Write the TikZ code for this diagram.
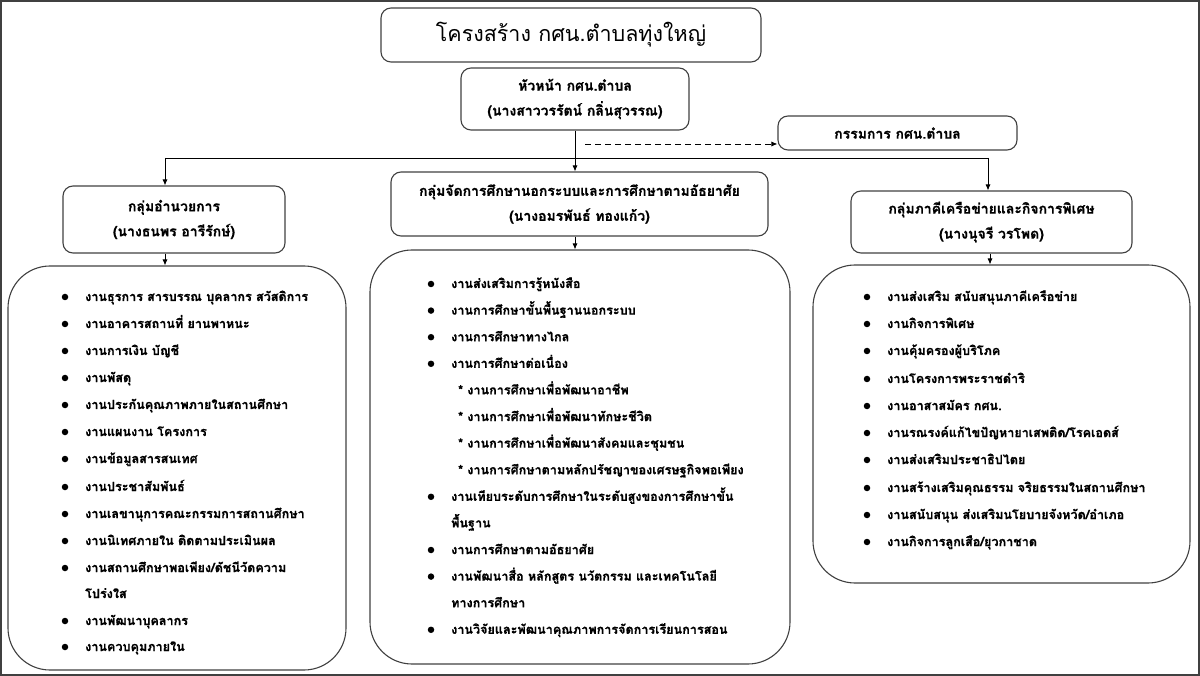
\documentclass[tikz,border=0pt]{standalone}
\usepackage{fontspec}
\newfontfamily\thaifont[Script=Thai, BoldFeatures={FakeBold=0.8}]{Loma}
\usetikzlibrary{arrows.meta}
\newcommand{\orgitem}[4]{\node[bul] (#1b) at ({#2-20},#3) {}; \node[item] (#1) at (#2,{#3+4}) {#4};}
\newcommand{\orgcont}[4]{\node[item] (#1) at (#2,{#3+4}) {#4};}
\begin{document}
\begin{tikzpicture}[x=1pt,y=-1pt,
  boxline/.style={draw=black!75, line width=1.1pt},
  smallbox/.style={boxline, rounded corners=10pt, align=center, inner sep=0pt},
  listbox/.style={boxline, rounded corners=42pt, inner sep=0pt},
  arr/.style={-{Latex[length=6pt,width=5pt]}, line width=0.8pt},
  conn/.style={line width=0.8pt},
  item/.style={anchor=base west, inner sep=0pt, font=\thaifont\bfseries\fontsize{12.6}{16}\selectfont},
  bul/.style={circle, fill=black, inner sep=0pt, minimum size=6.5pt},
  grp/.style={font=\thaifont\bfseries\fontsize{14}{25}\selectfont}
]
\useasboundingbox (0,0) rectangle (1200,676);
\draw[draw=black!75, line width=2pt] (1,1) rectangle (1199,675);

% top boxes
\node[smallbox, minimum width=380pt, minimum height=54pt, font=\thaifont\fontsize{21.5}{28}\selectfont] (title) at (571,35) {โครงสร้าง กศน.ตำบลทุ่งใหญ่};
\node[smallbox, grp, minimum width=228pt, minimum height=62pt] (head) at (575,99) {หัวหน้า กศน.ตำบล\\(นางสาววรรัตน์ กลิ่นสุวรรณ)};
\node[smallbox, grp, minimum width=239pt, minimum height=34pt] (comm) at (897.5,133) {กรรมการ กศน.ตำบล};

% group boxes
\node[smallbox, grp, minimum width=222pt, minimum height=67pt] (lgrp) at (174,219.5) {กลุ่มอำนวยการ\\(นางธนพร อารีรักษ์)};
\node[smallbox, grp, minimum width=377pt, minimum height=64pt] (mgrp) at (579.5,204) {กลุ่มจัดการศึกษานอกระบบและการศึกษาตามอัธยาศัย\\(นางอมรพันธ์ ทองแก้ว)};
\node[smallbox, grp, minimum width=281pt, minimum height=62pt] (rgrp) at (991.5,222) {กลุ่มภาคีเครือข่ายและกิจการพิเศษ\\(นางนุจรี วรโพด)};

% list boxes
\node[listbox, minimum width=338pt, minimum height=404pt] (llist) at (177,468) {};
\node[listbox, minimum width=420pt, minimum height=414pt] (mlist) at (580,457) {};
\node[listbox, minimum width=377pt, minimum height=318pt] (rlist) at (1001.5,424) {};

% connectors
\coordinate (hy) at (0,158);
\coordinate (j) at (head.south |- hy);
\coordinate (jl) at (165,158);
\coordinate (jr) at (988,158);
\draw[conn] (head.south) -- (j);
\draw[conn] (jl) -- (jr);
\draw[arr] (j) -- (j |- mgrp.north);
\draw[arr] (jl) -- (jl |- lgrp.north);
\draw[arr] (jr) -- (jr |- rgrp.north);
\coordinate (ds) at (585,144);
\draw[arr, dash pattern=on 6pt off 4pt] (ds) -- (ds -| comm.west);
\draw[arr] (jl |- lgrp.south) -- (jl |- llist.north);
\draw[arr] (j |- mgrp.south) -- (j |- mlist.north);
\coordinate (jr2) at (990,158);
\draw[arr] (jr2 |- rgrp.south) -- (jr2 |- rlist.north);

% left list
\orgitem{l1}{85}{297}{งานธุรการ สารบรรณ บุคลากร สวัสดิการ}
\orgitem{l2}{85}{324}{งานอาคารสถานที่ ยานพาหนะ}
\orgitem{l3}{85}{351}{งานการเงิน บัญชี}
\orgitem{l4}{85}{378}{งานพัสดุ}
\orgitem{l5}{85}{405}{งานประกันคุณภาพภายในสถานศึกษา}
\orgitem{l6}{85}{432}{งานแผนงาน โครงการ}
\orgitem{l7}{85}{459}{งานข้อมูลสารสนเทศ}
\orgitem{l8}{85}{487}{งานประชาสัมพันธ์}
\orgitem{l9}{85}{514}{งานเลขานุการคณะกรรมการสถานศึกษา}
\orgitem{l10}{85}{541}{งานนิเทศภายใน ติดตามประเมินผล}
\orgitem{l11}{85}{568}{งานสถานศึกษาพอเพียง/ดัชนีวัดความ}
\orgcont{l11c}{85}{594}{โปร่งใส}
\orgitem{l12}{85}{621}{งานพัฒนาบุคลากร}
\orgitem{l13}{85}{647}{งานควบคุมภายใน}

% middle list
\orgitem{m1}{451}{284}{งานส่งเสริมการรู้หนังสือ}
\orgitem{m2}{451}{310.6}{งานการศึกษาขั้นพื้นฐานนอกระบบ}
\orgitem{m3}{451}{337.2}{งานการศึกษาทางไกล}
\orgitem{m4}{451}{363.8}{งานการศึกษาต่อเนื่อง}
\orgcont{m5}{458}{390.4}{* งานการศึกษาเพื่อพัฒนาอาชีพ}
\orgcont{m6}{458}{417}{* งานการศึกษาเพื่อพัฒนาทักษะชีวิต}
\orgcont{m7}{458}{443.6}{* งานการศึกษาเพื่อพัฒนาสังคมและชุมชน}
\orgcont{m8}{458}{470.2}{* งานการศึกษาตามหลักปรัชญาของเศรษฐกิจพอเพียง}
\orgitem{m9}{451}{496.8}{งานเทียบระดับการศึกษาในระดับสูงของการศึกษาขั้น}
\orgcont{m9c}{451}{523.4}{พื้นฐาน}
\orgitem{m10}{451}{550}{งานการศึกษาตามอัธยาศัย}
\orgitem{m11}{451}{576.6}{งานพัฒนาสื่อ หลักสูตร นวัตกรรม และเทคโนโลยี}
\orgcont{m11c}{451}{603.2}{ทางการศึกษา}
\orgitem{m12}{451}{629.8}{งานวิจัยและพัฒนาคุณภาพการจัดการเรียนการสอน}

% right list
\orgitem{r1}{887}{297}{งานส่งเสริม สนับสนุนภาคีเครือข่าย}
\orgitem{r2}{887}{324}{งานกิจการพิเศษ}
\orgitem{r3}{887}{351}{งานคุ้มครองผู้บริโภค}
\orgitem{r4}{887}{379}{งานโครงการพระราชดำริ}
\orgitem{r5}{887}{406}{งานอาสาสมัคร กศน.}
\orgitem{r6}{887}{433}{งานรณรงค์แก้ไขปัญหายาเสพติด/โรคเอดส์}
\orgitem{r7}{887}{460}{งานส่งเสริมประชาธิปไตย}
\orgitem{r8}{887}{488}{งานสร้างเสริมคุณธรรม จริยธรรมในสถานศึกษา}
\orgitem{r9}{887}{515}{งานสนับสนุน ส่งเสริมนโยบายจังหวัด/อำเภอ}
\orgitem{r10}{887}{542}{งานกิจการลูกเสือ/ยุวกาชาด}
\end{tikzpicture}
\end{document}
